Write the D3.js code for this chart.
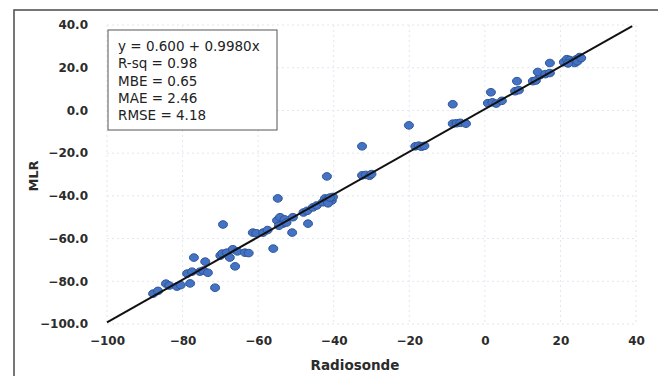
<!DOCTYPE html>
<html>
<head>
<meta charset="utf-8">
<script src="https://cdn.jsdelivr.net/npm/d3@7"></script>
<style>
  body { margin: 0; background: #fff; }
  svg { display: block; font-family: "DejaVu Sans", sans-serif; }
</style>
</head>
<body>
<svg id="chart" width="658" height="376"></svg>
<script>
// Radiosonde vs MLR values
const radiosonde = [
  -87.8, -86.5, -84.4, -83.5, -81.5, -80.5, -78.0, -78.8, -77.5, -77.0,
  -74.0, -75.4, -74.5, -73.3, -71.4, -70.0, -69.5, -68.3, -67.5, -69.3,
  -66.1, -66.7, -65.5, -63.5, -62.5, -61.4, -60.5, -58.7, -57.5, -56.0,
  -54.8, -55.0, -54.2, -53.4, -54.5, -53.0, -52.5, -51.0, -50.8, -48.0,
  -47.0, -46.8, -45.5, -44.5, -42.9, -42.3, -41.8, -40.5, -41.5, -40.2,
  -41.0, -41.8, -32.5, -32.5, -31.5, -30.5, -30.0, -20.1, -18.4, -17.5,
  -16.8, -16.0, -8.5, -8.5, -7.5, -6.5, -5.0, 1.6, 0.8, 2.0,
  3.0, 4.5, 8.5, 8.0, 9.0, 12.7, 13.5, 14.6, 14.0, 16.0,
  17.2, 17.2, 20.9, 21.7, 22.5, 23.2, 24.3, 25.1, 23.8, 22.0,
  24.5, 25.5
];
const mlr = [
  -85.8, -84.5, -81.1, -82.0, -82.5, -81.8, -81.0, -76.4, -75.5, -68.9,
  -70.8, -75.5, -75.0, -76.0, -83.0, -68.0, -67.0, -66.6, -68.9, -53.4,
  -73.0, -65.0, -66.0, -66.6, -66.8, -57.2, -57.5, -57.2, -56.0, -64.7,
  -41.2, -51.5, -50.0, -53.0, -54.0, -51.0, -52.5, -57.2, -50.0, -47.8,
  -47.0, -53.0, -45.4, -44.5, -43.0, -41.2, -42.0, -42.2, -43.5, -40.5,
  -40.8, -30.9, -16.8, -30.4, -30.2, -30.6, -29.8, -7.0, -16.8, -16.5,
  -17.0, -16.6, 2.9, -6.2, -6.0, -5.8, -6.2, 8.5, 3.4, 3.8,
  3.2, 4.5, 13.7, 9.0, 9.5, 13.7, 14.0, 16.5, 18.0, 17.0,
  17.5, 22.2, 22.6, 24.0, 23.6, 22.8, 24.0, 25.0, 22.2, 22.0,
  23.0, 24.5
];
const xTicks = [-100, -80, -60, -40, -20, 0, 20, 40];
const yTicks = [40, 20, 0, -20, -40, -60, -80, -100];
const fitIntercept = 0.600;
const fitSlope = 0.9980;
const statLines = ["y = 0.600 + 0.9980x", "R-sq = 0.98", "MBE = 0.65", "MAE = 2.46", "RMSE = 4.18"];

const svg = d3.select("#chart");

// outer frame of the chart (only top and left edges show in the photo)
svg.append("rect")
  .attr("x", 14).attr("y", 10)
  .attr("width", 700).attr("height", 420)
  .attr("fill", "none")
  .attr("stroke", "#4a4a4a")
  .attr("stroke-width", 1.5);

const x = d3.scaleLinear().domain([-100, 40]).range([107, 636]);
const y = d3.scaleLinear().domain([-100, 40]).range([324, 25]);

// faint gridlines
svg.append("g")
  .selectAll("line")
  .data(xTicks)
  .join("line")
  .attr("x1", d => x(d)).attr("x2", d => x(d))
  .attr("y1", y(40)).attr("y2", y(-100))
  .attr("stroke", "#dfe7f2")
  .attr("stroke-dasharray", "2,3");
svg.append("g")
  .selectAll("line")
  .data(yTicks)
  .join("line")
  .attr("x1", x(-100)).attr("x2", x(40))
  .attr("y1", d => y(d)).attr("y2", d => y(d))
  .attr("stroke", "#dfe7f2")
  .attr("stroke-dasharray", "2,3");

// axes (labels only)
const xAxis = svg.append("g")
  .attr("transform", `translate(0,${y(-100) + 6})`)
  .call(d3.axisBottom(x).tickValues(xTicks).tickSize(0).tickPadding(6));
xAxis.select(".domain").remove();
xAxis.selectAll("text")
  .style("font-size", "12px")
  .style("font-weight", "bold")
  .attr("fill", "#2b2b2b")
  .attr("font-family", "'DejaVu Sans', sans-serif");

const yAxis = svg.append("g")
  .attr("transform", `translate(${x(-100) - 19},0)`)
  .call(d3.axisLeft(y).tickValues(yTicks).tickSize(0).tickPadding(0).tickFormat(d3.format(".1f")));
yAxis.select(".domain").remove();
yAxis.selectAll("text")
  .style("font-size", "12px")
  .style("font-weight", "bold")
  .attr("fill", "#2b2b2b")
  .attr("font-family", "'DejaVu Sans', sans-serif");

// axis titles
svg.append("text")
  .attr("x", 355).attr("y", 370)
  .attr("text-anchor", "middle")
  .style("font-size", "13.5px")
  .style("font-weight", "bold")
  .attr("fill", "#2b2b2b")
  .text("Radiosonde");
svg.append("text")
  .attr("transform", "translate(38,176) rotate(-90)")
  .attr("text-anchor", "middle")
  .style("font-size", "13px")
  .style("font-weight", "bold")
  .attr("fill", "#2b2b2b")
  .text("MLR");

// points
const points = radiosonde.map((r, i) => ({r: r, m: mlr[i]}));
svg.append("g")
  .selectAll("ellipse")
  .data(points)
  .join("ellipse")
  .attr("cx", d => x(d.r))
  .attr("cy", d => y(d.m))
  .attr("rx", 4.5)
  .attr("ry", 3.8)
  .attr("fill", "#4472c4")
  .attr("stroke", "#2f5597")
  .attr("stroke-width", 1);

// fitted line
const fitX = [-100, 39];
svg.append("path")
  .datum(fitX)
  .attr("fill", "none")
  .attr("stroke", "#111")
  .attr("stroke-width", 2)
  .attr("d", d3.line()
    .x(d => x(d))
    .y(d => y(fitIntercept + fitSlope * d)));

// stats box
const box = svg.append("g");
box.append("rect")
  .attr("x", 108).attr("y", 30)
  .attr("width", 169).attr("height", 100)
  .attr("fill", "#fff")
  .attr("stroke", "#555")
  .attr("stroke-width", 1);
box.selectAll("text")
  .data(statLines)
  .join("text")
  .attr("x", 118)
  .attr("y", (d, i) => 51 + i * 17.3)
  .style("font-size", "13.5px")
  .attr("fill", "#222")
  .text(d => d);
</script>
</body>
</html>
